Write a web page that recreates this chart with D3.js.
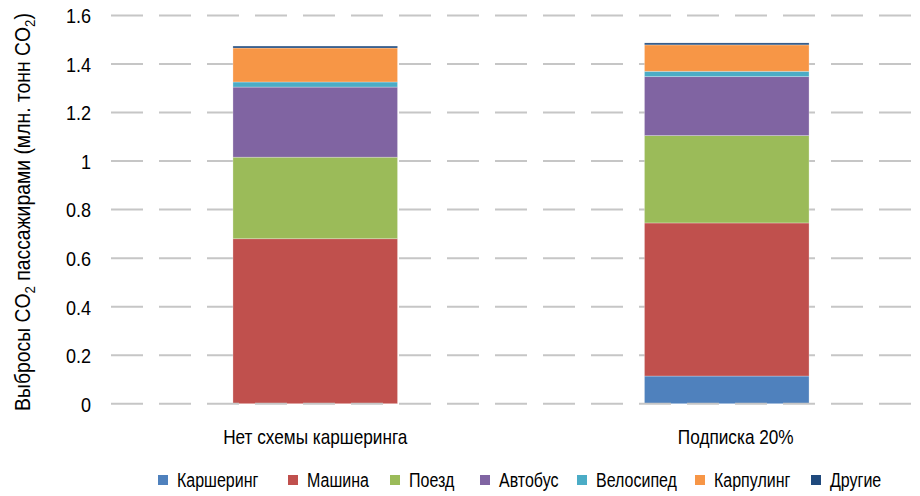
<!DOCTYPE html>
<html>
<head>
<meta charset="utf-8">
<script src="https://cdn.jsdelivr.net/npm/d3@7"></script>
<style>
  body { margin: 0; background: #fff; }
  text { font-family: "Liberation Sans", Arial, sans-serif; fill: #000; }
</style>
</head>
<body>
<script>
// chart values
const categories = ["Нет схемы каршеринга", "Подписка 20%"];
const modes = ["Каршеринг", "Машина", "Поезд", "Автобус", "Велосипед", "Карпулинг", "Другие"];
const carsharing = [0, 0.114];
const car = [0.680, 0.631];
const train = [0.336, 0.360];
const bus = [0.289, 0.243];
const bike = [0.021, 0.022];
const carpool = [0.140, 0.109];
const other = [0.008, 0.008];
const yTicks = [0, 0.2, 0.4, 0.6, 0.8, 1, 1.2, 1.4, 1.6];
const colors = ["#4F81BD", "#C0504D", "#9BBB59", "#8064A2", "#4BACC6", "#F79646", "#1F497D"];

const series = [carsharing, car, train, bus, bike, carpool, other];
const rows = categories.map((c, i) => {
  const r = { cat: c };
  modes.forEach((m, k) => r[m] = series[k][i]);
  return r;
});

// no condensed font installed, so squeeze text horizontally
const squeeze = 0.82;

const svg = d3.select("body").append("svg")
  .attr("width", 920)
  .attr("height", 496);

const x = d3.scaleBand().domain(categories).range([109.5, 932.5]);
const y = d3.scaleLinear().domain([0, 1.6]).range([403.7, 15.5]);
const color = d3.scaleOrdinal().domain(modes).range(colors);

// dashed gridlines
svg.append("g").selectAll("line")
  .data(yTicks.filter(d => d > 0))
  .join("line")
  .attr("x1", 111).attr("x2", 911)
  .attr("y1", d => y(d)).attr("y2", d => y(d))
  .attr("stroke", "#c6c6c6")
  .attr("stroke-width", 2)
  .attr("stroke-dasharray", "32,16");

const stack = d3.stack().keys(modes)(rows);
const barW = x.bandwidth() * 0.4;

svg.append("g").selectAll("g")
  .data(stack)
  .join("g")
  .attr("fill", d => color(d.key))
  .selectAll("rect")
  .data(d => d)
  .join("rect")
  .attr("x", d => x(d.data.cat) + (x.bandwidth() - barW) / 2)
  .attr("width", barW)
  .attr("y", d => y(d[1]))
  .attr("height", d => y(d[0]) - y(d[1]))
  .attr("stroke", "#fff")
  .attr("stroke-opacity", 0.35)
  .attr("stroke-width", 0.8);

// zero line sits above the bars
svg.append("line")
  .attr("x1", 111).attr("x2", 911)
  .attr("y1", y(0)).attr("y2", y(0))
  .attr("stroke", "#c6c6c6")
  .attr("stroke-width", 2)
  .attr("stroke-dasharray", "32,16");

// y axis labels
const yAxis = d3.axisLeft(y).tickValues(yTicks).tickSize(0).tickPadding(0).tickFormat(d3.format(""));
svg.append("g")
  .attr("transform", "translate(91,0)")
  .call(yAxis)
  .call(g => g.select(".domain").remove())
  .selectAll("text")
  .style("font-family", "'Liberation Sans', Arial, sans-serif")
  .attr("font-size", 21)
  .attr("fill", "#000")
  .attr("dy", "0.35em")
  .attr("transform", "scale(0.86,1)");

// category labels (second one sits a little right of its bar in the original)
const labelDx = [0, 9];
svg.append("g").selectAll("text")
  .data(categories)
  .join("text")
  .attr("transform", (d, i) => `translate(${x(d) + x.bandwidth() / 2 + labelDx[i]},444) scale(${squeeze},1)`)
  .attr("text-anchor", "middle")
  .attr("font-size", 21)
  .text(d => d);

// y title with subscripts
const title = svg.append("text")
  .attr("transform", "translate(30,212) rotate(-90) scale(0.88,1)")
  .attr("text-anchor", "middle")
  .attr("font-size", 22);
title.append("tspan").text("Выбросы CO");
title.append("tspan").attr("font-size", 15).attr("dy", 5).text("2");
title.append("tspan").attr("dy", -5).text(" пассажирами (млн. тонн CO");
title.append("tspan").attr("font-size", 15).attr("dy", 5).text("2");
title.append("tspan").attr("dy", -5).text(")");

// legend, marker positions taken from the reference layout
const legendX = [158, 288, 390, 480, 577, 695, 811];
const legend = svg.append("g");
modes.forEach((m, i) => {
  legend.append("rect")
    .attr("x", legendX[i]).attr("y", 475)
    .attr("width", 10).attr("height", 10)
    .attr("fill", color(m));
  legend.append("text")
    .attr("transform", `translate(${legendX[i] + 19},487) scale(0.8,1)`)
    .attr("font-size", 20)
    .text(m);
});
</script>
</body>
</html>
